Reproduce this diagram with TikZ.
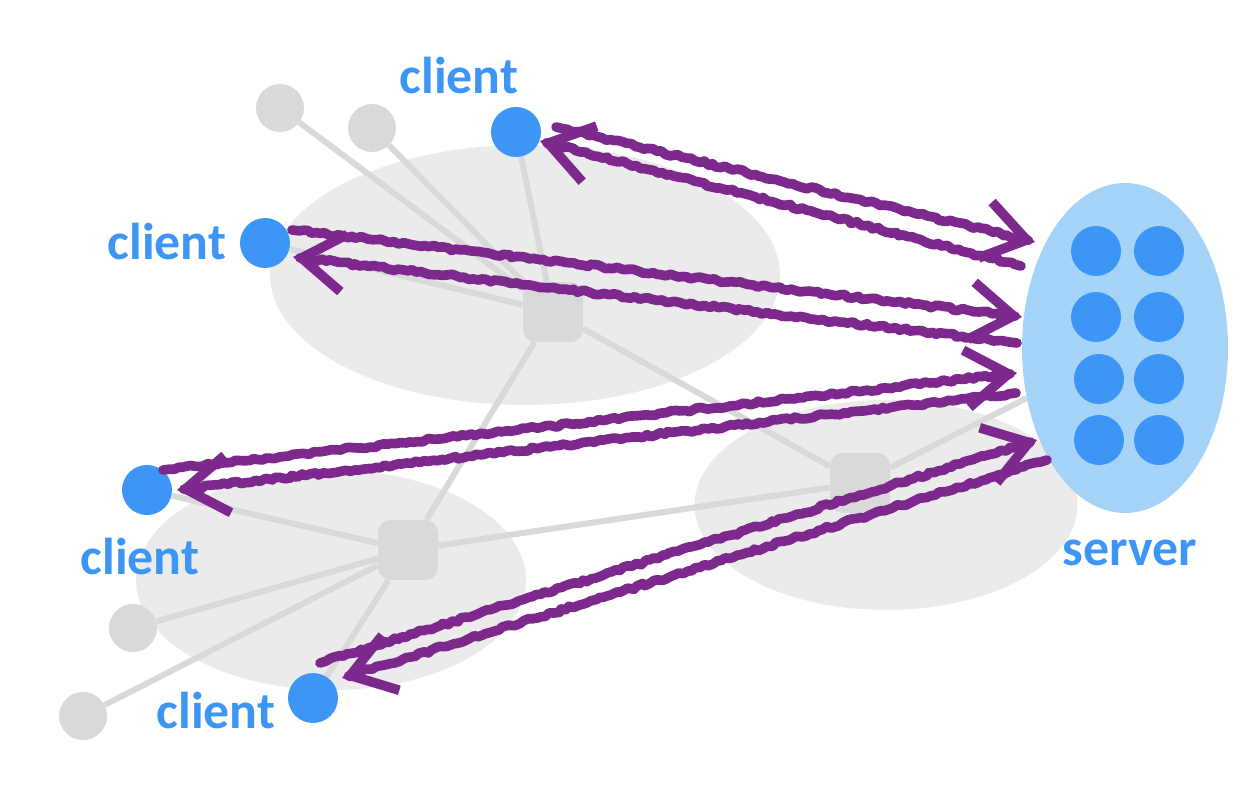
\documentclass[tikz,border=0pt]{standalone}
\usepackage{fontspec}
\setmainfont{Carlito}
\usetikzlibrary{arrows.meta,decorations.pathmorphing,shapes.geometric}
\definecolor{cblue}{RGB}{61,150,245}
\definecolor{sblue}{RGB}{166,211,248}
\definecolor{lgrey}{RGB}{235,235,235}
\definecolor{mgrey}{RGB}{217,217,217}
\definecolor{crayon}{RGB}{125,40,140}
\pgfdeclarelayer{back}
\pgfdeclarelayer{mid}
\pgfsetlayers{back,mid,main}
\tikzset{
 blob/.style={circle,fill=#1,inner sep=0pt,minimum size=1cm},
 cloud/.style={ellipse,fill=lgrey,inner sep=0pt},
 router/.style={rectangle,rounded corners=0.25cm,fill=mgrey,minimum size=1.2cm},
 lbl/.style={text=cblue,font=\bfseries\fontsize{29.5}{32}\selectfont},
 wire/.style={mgrey,line width=3.4pt},
 scribble/.style={crayon,line width=5.5pt,line cap=round,line join=round,decorate,decoration={random steps,segment length=2.5pt,amplitude=0.9pt,pre length=4pt,post length=4pt},-{Straight Barb[length=0.85cm,width=1.15cm]}}
}
\begin{document}
\begin{tikzpicture}[x=0.02cm,y=-0.02cm]
\pgfmathsetseed{7}
\useasboundingbox (0,0) rectangle (1240,790);
\begin{pgfonlayer}{back}
\node[cloud,minimum width=10.2cm,minimum height=5.2cm](g1) at (525,275){};
\node[cloud,minimum width=7.8cm,minimum height=4.4cm](g2) at (331,580){};
\node[cloud,minimum width=7.66cm,minimum height=4.2cm](g3) at (886,505){};
\end{pgfonlayer}
\foreach \n/\x/\y in {r1/553/312,r2/408/550,r3/860/483}{\node[router](\n) at (\x,\y){};}
\foreach \n/\x/\y in {l1/280/108,l2/372/128,l3/133/628,l4/83/716}{\node[blob=mgrey,minimum size=0.96cm](\n) at (\x,\y){};}
\foreach \n/\x/\y in {c1/516/132,c2/265/243,c3/147/490,c4/313/698}{\node[blob=cblue](\n) at (\x,\y){};}
\node[ellipse,fill=sblue,inner sep=0pt,minimum width=4.12cm,minimum height=6.6cm](srv) at (1125,348){};
\foreach \x/\y [count=\i] in {1096/251,1159/251,1096/317,1159/317,1099/379,1159/379,1099/440,1159/440}{\node[blob=cblue](s\i) at (\x,\y){};}
\begin{pgfonlayer}{mid}
\foreach \a/\b in {r1/l1,r1/l2,r1/c1,r1/c2,r1/r2,r1/r3,r2/c3,r2/l3,r2/l4,r2/c4,r2/r3,r3/srv}{\draw[wire](\a)--(\b);}
\end{pgfonlayer}
\node[lbl](t1) at (459,76){client};
\node[lbl](t2) at (167,242){client};
\node[lbl](t3) at (140,557){client};
\node[lbl](t4) at (216,711){client};
\node[lbl](t5) at (1130,553){server};
\foreach \n/\x/\y in {a1/556/127,b1/1035/242,a2/1021/266,b2/540/141,a3/292/230,b3/1022/317,a4/1017/343,b4/293/257,a5/163/470,b5/1017/373,a6/1016/393,b6/177/490,a7/320/663,b7/1037/440,a8/1047/460,b8/342/678}{\coordinate(\n) at (\x,\y);}
\foreach \i in {1,...,8}{\draw[scribble](a\i)--(b\i);}
\end{tikzpicture}
\end{document}
